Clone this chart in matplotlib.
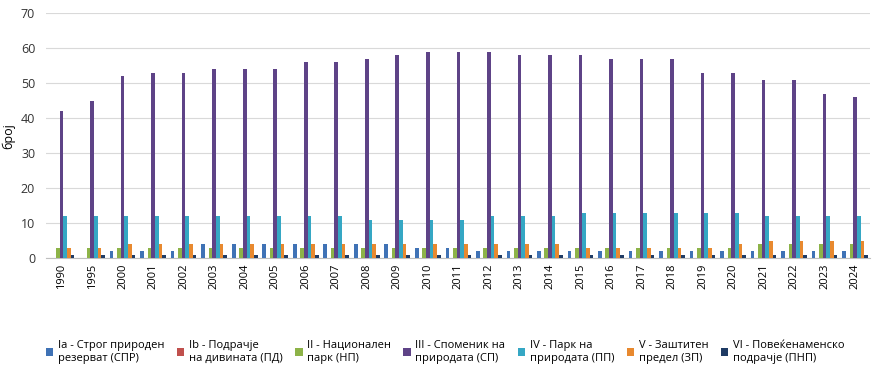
import numpy as np
import matplotlib.pyplot as plt

# years on the x axis
years = ['1990', '1995', '2000', '2001', '2002', '2003', '2004', '2005', '2006',
         '2007', '2008', '2009', '2010', '2011', '2012', '2013', '2014', '2015',
         '2016', '2017', '2018', '2019', '2020', '2021', '2022', '2023', '2024']

# number of protected areas per IUCN category
cat_ia = [0, 0, 2, 2, 2, 4, 4, 4, 4, 4, 4, 4, 3, 3, 2, 2, 2, 2, 2, 2, 2, 2, 2, 2, 2, 2, 2]
cat_ib = [0] * 27
cat_ii = [3, 3, 3, 3, 3, 3, 3, 3, 3, 3, 3, 3, 3, 3, 3, 3, 3, 3, 3, 3, 3, 3, 3, 4, 4, 4, 4]
cat_iii = [42, 45, 52, 53, 53, 54, 54, 54, 56, 56, 57, 58, 59, 59, 59, 58, 58, 58, 57, 57,
           57, 53, 53, 51, 51, 47, 46]
cat_iv = [12, 12, 12, 12, 12, 12, 12, 12, 12, 12, 11, 11, 11, 11, 12, 12, 12, 13, 13, 13,
          13, 13, 13, 12, 12, 12, 12]
cat_v = [3, 3, 4, 4, 4, 4, 4, 4, 4, 4, 4, 4, 4, 4, 4, 4, 4, 3, 3, 3, 3, 3, 4, 5, 5, 5, 5]
cat_vi = [1] * 27

labels = ['Ia - Строг природен\nрезерват (СПР)',
          'Ib - Подрачје\nна дивината (ПД)',
          'II - Национален\nпарк (НП)',
          'III - Споменик на\nприродата (СП)',
          'IV - Парк на\nприродата (ПП)',
          'V - Заштитен\nпредел (ЗП)',
          'VI - Повеќенаменско\nподрачје (ПНП)']
colors = ['#3F72B5', '#C0504D', '#8DB348', '#5E4387', '#35A7C4', '#E8892F', '#1F3B64']

series = [cat_ia, cat_ib, cat_ii, cat_iii, cat_iv, cat_v, cat_vi]

plt.rcParams['font.family'] = ['Open Sans', 'DejaVu Sans']

fig = plt.figure(figsize=(8.9, 3.74), dpi=100)
ax = fig.add_axes([0.052, 0.31, 0.926, 0.655])

x = np.arange(len(years))
w = 0.12
for i in range(len(series)):
    ax.bar(x + (i - 3) * w, series[i], w, color=colors[i], label=labels[i], zorder=3)

ax.set_ylim(0, 70)
ax.set_yticks(range(0, 71, 10))
ax.set_xlim(-0.5, len(years) - 0.5)
ax.set_xticks(x)
ax.set_xticklabels(years, rotation=90, fontsize=8)
ax.tick_params(axis='y', labelsize=9, length=0, colors='#333333', pad=8)
ax.tick_params(axis='x', length=0, pad=4)
ax.grid(axis='y', color='#d9d9d9', linewidth=0.8, zorder=0)
ax.set_ylabel('број', fontsize=9)
for s in ['top', 'right', 'left']:
    ax.spines[s].set_visible(False)
ax.spines['bottom'].set_color('#bfbfbf')

fig.legend(loc='lower center', bbox_to_anchor=(0.5, 0.0), ncol=7, frameon=False,
           fontsize=8, handlelength=0.7, handleheight=0.7, handletextpad=0.4,
           columnspacing=1.1)

fig.savefig('out.png', dpi=100)
